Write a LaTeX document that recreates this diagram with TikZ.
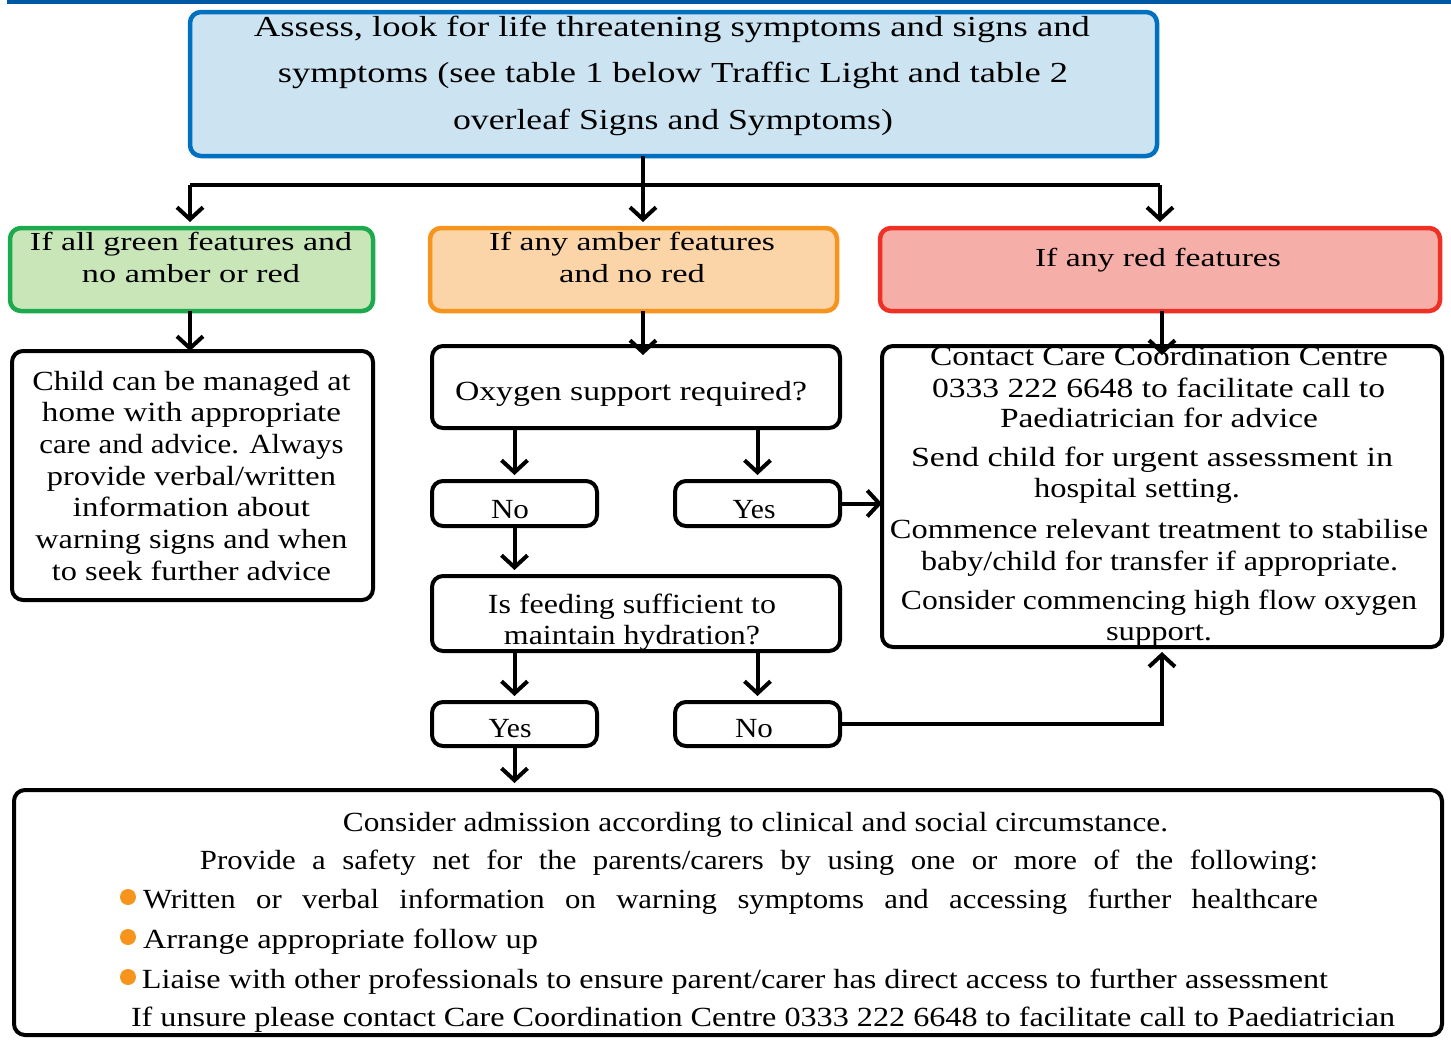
\documentclass[tikz,border=0pt]{standalone}
\usepackage{fontspec}
\setmainfont{Liberation Serif}
\usepackage{graphicx}
\usetikzlibrary{arrows.meta}
\definecolor{topblue}{HTML}{0057A3}
\definecolor{boxblue}{HTML}{0070C0}
\definecolor{fillblue}{HTML}{CCE3F1}
\definecolor{boxgreen}{HTML}{1DAA4E}
\definecolor{fillgreen}{HTML}{C9E6B9}
\definecolor{boxamber}{HTML}{F7941D}
\definecolor{fillamber}{HTML}{FBD5A8}
\definecolor{boxred}{HTML}{EE3124}
\definecolor{fillred}{HTML}{F6AFA8}
\definecolor{bulletorange}{HTML}{F7941D}
\newcommand\fsz[1]{\fontsize{#1pt}{#1pt}\selectfont}
\newcommand\LL[2]{\resizebox{#1pt}{\height}{#2}}
\newcommand\JL[2]{\resizebox{#1pt}{\height}{\makebox[\dimexpr #1pt*9/10\relax][s]{#2}}}
\tikzset{
  box/.style={draw, line width=4pt, rounded corners=11pt, inner sep=0pt, outer sep=0pt, fill=white},
  cbox/.style={box, line width=4.5pt},
  txt/.style={anchor=base, inner sep=0pt, outer sep=0pt},
  conn/.style={line width=4pt},
  arr/.style={line width=4pt, -{Straight Barb[length=12pt,width=26pt]}},
}
\begin{document}
\begin{tikzpicture}[x=1pt,y=-1pt]
\useasboundingbox (0,0) rectangle (1451,1039);
\fill[topblue] (7,0) rectangle (1451,3.5);

% boxes
\node[cbox, draw=boxblue, fill=fillblue, minimum width=967pt, minimum height=144pt] (top) at (673.5,84) {};
\node[cbox, draw=boxgreen, fill=fillgreen, minimum width=363pt, minimum height=83pt] (green) at (191.5,269.5) {};
\node[cbox, draw=boxamber, fill=fillamber, minimum width=407pt, minimum height=83pt] (amber) at (633.5,269.5) {};
\node[cbox, draw=boxred, fill=fillred, minimum width=560pt, minimum height=83pt] (red) at (1160,269.5) {};
\node[box, minimum width=361pt, minimum height=249pt] (child) at (192.5,475.5) {};
\node[box, minimum width=408pt, minimum height=82pt] (oxy) at (636,387) {};
\node[box, minimum width=165pt, minimum height=45pt] (noA) at (514.5,503.5) {};
\node[box, minimum width=165pt, minimum height=45pt] (yesA) at (757.5,503.5) {};
\node[box, minimum width=560pt, minimum height=301pt] (content) at (1162,496.5) {};
\node[box, minimum width=408pt, minimum height=75pt] (feed) at (636,613.5) {};
\node[box, minimum width=165pt, minimum height=44pt] (yesB) at (514.5,724) {};
\node[box, minimum width=165pt, minimum height=44pt] (noB) at (757.5,724) {};
\node[box, minimum width=1428pt, minimum height=245pt] (bottom) at (728,912.5) {};

% connectors
\coordinate (j) at (643,185);
\coordinate (jl) at (190,185);
\coordinate (jr) at (1160,185);
\draw[conn] (j |- top.south) -- (j);
\draw[conn] (jl) -- (jr);
\draw[arr, shorten >=6pt] (jl) -- (jl |- green.north);
\draw[arr, shorten >=6pt] (j) -- (j |- amber.north);
\draw[arr, shorten >=6pt] (jr) -- (jr |- red.north);
\draw[arr] (green.south -| jl) -- (child.north -| jl);
\draw[arr, shorten >=-9pt] (amber.south -| j) -- (oxy.north -| j);
\draw[arr, shorten >=-9pt] (content.north |- red.south) -- (content.north);
\draw[arr, shorten >=6pt] (noA.north |- oxy.south) -- (noA.north);
\draw[arr, shorten >=6pt] (yesA.north |- oxy.south) -- (yesA.north);
\draw[arr] (yesA.east) -- (yesA.east -| content.west);
\draw[arr, shorten >=6pt] (noA.south) -- (noA.south |- feed.north);
\draw[arr, shorten >=6pt] (yesB.north |- feed.south) -- (yesB.north);
\draw[arr, shorten >=6pt] (noB.north |- feed.south) -- (noB.north);
\draw[arr, shorten >=5pt] (noB.east) -| (content.south);
\draw[arr, shorten >=7pt] (yesB.south) -- (yesB.south |- bottom.north);

% top text
\begin{scope}[every node/.style={txt, font=\fsz{29}}]
\node (t1) at (672,36) {\LL{836}{Assess, look  for  life  threatening symptoms and signs  and}};
\node (t2) at (673,82) {\LL{790}{symptoms (see  table 1 below Traffic  Light and table 2}};
\node (t3) at (673,129) {\LL{440}{overleaf Signs  and Symptoms)}};
\end{scope}

% coloured headers
\begin{scope}[every node/.style={txt, font=\fsz{26}}]
\node (g1) at (191,250) {\LL{322}{If all green  features and}};
\node (g2) at (191,282) {\LL{218}{no amber or red}};
\node (a1) at (632,250) {\LL{286}{If any amber features}};
\node (a2) at (632,282) {\LL{146}{and no red}};
\node (r1) at (1158,266) {\LL{246}{If any red features}};
\end{scope}

\begin{scope}[every node/.style={txt, font=\fsz{27.7}}]
% child box
\node (c1) at (191.5,390) {\LL{318}{Child can be managed at}};
\node (c2) at (191.5,421.7) {\LL{299}{home with appropriate}};
\node (c3) at (191.5,453.4) {\LL{304}{care and advice. Always}};
\node (c4) at (191.5,485.1) {\LL{289}{provide verbal/written}};
\node (c5) at (191.5,516.8) {\LL{237}{information about}};
\node (c6) at (191.5,548.5) {\LL{312}{warning signs and when}};
\node (c7) at (191.5,580.2) {\LL{279}{to seek further advice}};
% middle column
\node (o1) at (631,400) {\LL{352}{Oxygen support  required?}};
\node (n1) at (510,518) {\LL{38}{No}};
\node (y1) at (754,518) {\LL{43}{Yes}};
\node (f1) at (632,613) {\LL{288}{Is feeding  sufficient to}};
\node (f2) at (632,644) {\LL{256}{maintain hydration?}};
\node (y2) at (510,737) {\LL{43}{Yes}};
\node (n2) at (754,737) {\LL{38}{No}};
% red content
\node (k1) at (1159,365) {\LL{458}{Contact Care Coordination Centre}};
\node (k2) at (1158.5,397) {\LL{453}{0333 222 6648 to facilitate call to}};
\node (k3) at (1159,427) {\LL{318}{Paediatrician for advice}};
\node (k4) at (1152,466) {\LL{482}{Send child for urgent  assessment in}};
\node (k5) at (1137,497) {\LL{206}{hospital setting.}};
\node (k6) at (1159,538) {\LL{538}{Commence relevant treatment  to stabilise}};
\node (k7) at (1159.5,570) {\LL{477}{baby/child for transfer if appropriate.}};
\node (k8) at (1159,609) {\LL{516}{Consider commencing high flow oxygen}};
\node (k9) at (1159,640) {\LL{106}{support.}};
% bottom box
\node (b1) at (755.5,831) {\LL{825}{Consider admission according to clinical and  social circumstance.}};
\node (b2) at (759,869) {\JL{1118}{Provide a  safety  net  for  the  parents/carers  by  using  one  or  more  of  the  following:}};
\node (b3) at (730.5,908) {\JL{1175}{Written  or  verbal  information  on  warning  symptoms  and  accessing  further  healthcare}};
\node (b4) at (340.5,948) {\LL{395}{Arrange appropriate follow up}};
\node (b5) at (735,988) {\LL{1186}{Liaise with other professionals to ensure parent/carer has direct access to further  assessment}};
\node (b6) at (763,1026) {\LL{1264}{If unsure please contact Care Coordination Centre 0333 222 6648 to facilitate call to Paediatrician}};
\end{scope}
\fill[bulletorange] (128,897) circle (8pt);
\fill[bulletorange] (128,937) circle (8pt);
\fill[bulletorange] (128,977) circle (8pt);
\end{tikzpicture}
\end{document}
